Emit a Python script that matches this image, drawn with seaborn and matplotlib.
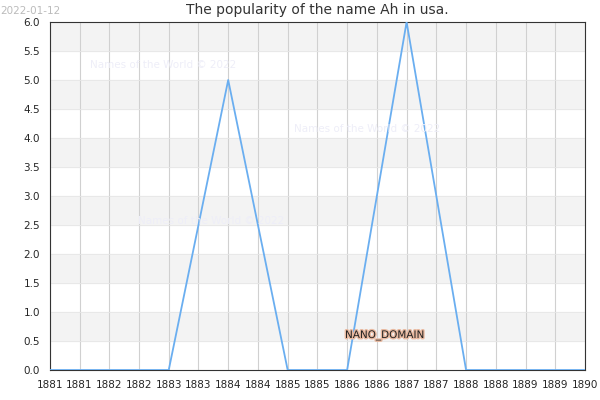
import matplotlib
matplotlib.use("Agg")
import matplotlib.pyplot as plt
import seaborn as sns
import pandas as pd
import numpy as np
import matplotlib.patheffects as pe

years = [1881, 1882, 1883, 1884, 1885, 1886, 1887, 1888, 1889, 1890]
counts = [0, 0, 0, 5, 0, 0, 6, 0, 0, 0]
df = pd.DataFrame({"year": years, "count": counts})

sns.set_style("white")
fig = plt.figure(figsize=(6, 4), dpi=100)
ax = fig.add_axes([0.083, 0.075, 0.892, 0.87])
for i in range(12):
    if i % 2 == 1:
        ax.axhspan(i * 0.5, (i + 1) * 0.5, color="#f3f3f3", zorder=0)
sns.lineplot(data=df, x="year", y="count", ax=ax, color="#6aaef0", linewidth=1.3, zorder=3)
ax.set_xlim(1881, 1890)
ax.set_ylim(0, 6)
xt = np.arange(1881, 1890.01, 0.5)
ax.set_xticks(xt)
ax.set_xticklabels([str(int(v)) for v in xt], fontsize=7.5)
yt = np.arange(0, 6.01, 0.5)
ax.set_yticks(yt)
ax.set_yticklabels([f"{v:.1f}" for v in yt], fontsize=7.5)
ax.grid(True, axis="x", color="#d0d0d0", linewidth=0.8)
ax.grid(True, axis="y", color="#e6e6e6", linewidth=0.6)
ax.set_axisbelow(True)
for s in ax.spines.values():
    s.set_color("#333333")
ax.set_xlabel("")
ax.set_ylabel("")
ax.set_title("The popularity of the name Ah in usa.", fontsize=10, color="#333333")
fig.text(0.0, 0.985, "2022-01-12", fontsize=7.5, color="#bbbbbb", va="top")
for (x, y) in [(0.15, 0.83), (0.49, 0.67), (0.23, 0.44)]:
    fig.text(x, y, "Names of the World © 2022", fontsize=7.5, color="#eeeef8")
t = fig.text(0.575, 0.155, "NANO_DOMAIN", fontsize=7.5, color="#222222")
t.set_path_effects([pe.withStroke(linewidth=2, foreground="#e8b9a0")])
fig.savefig("out.png", dpi=100)
